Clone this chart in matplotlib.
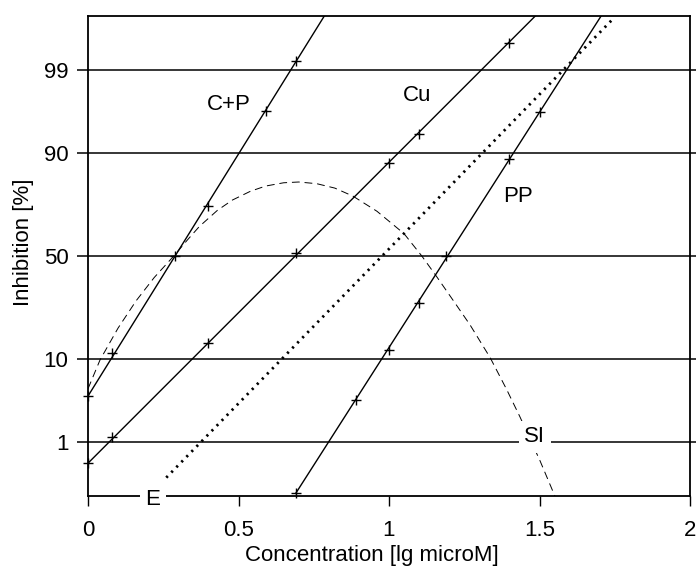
from statistics import NormalDist

import matplotlib
matplotlib.use("Agg")
import matplotlib.pyplot as plt

plt.rcParams['font.family'] = ['Liberation Sans', 'DejaVu Sans']

FONT_SIZE = 16
BLACK = (0, 0, 0)

# inhibition in %, concentration in lg microM
# C+P
cp_conc = [0.0, 0.08, 0.29, 0.40, 0.59, 0.69]
cp_inh = [4.0, 11.2, 50.0, 73.6, 96.5, 99.26]
cp_line_conc = [0.0, 0.80]
cp_line_inh = [4.0, 99.9]

# Cu
cu_conc = [0.0, 0.08, 0.40, 0.69, 1.00, 1.10, 1.40]
cu_inh = [0.48, 1.2, 13.8, 51.4, 87.8, 93.7, 99.61]
cu_line_conc = [0.0, 1.51]
cu_line_inh = [0.48, 99.9]

# PP
pp_conc = [0.69, 0.89, 1.00, 1.10, 1.19, 1.40, 1.50]
pp_inh = [0.15, 3.6, 12.1, 27.9, 50.0, 88.8, 96.4]
pp_line_conc = [0.69, 1.72]
pp_line_inh = [0.15, 99.9]

# E (dotted, no points)
e_conc = [0.26, 1.74]
e_inh = [0.28, 99.84]

# SI (dashed curve)
si_conc = [0.0, 0.04, 0.10, 0.16, 0.22, 0.285, 0.33, 0.37, 0.43, 0.48, 0.54, 0.59,
           0.65, 0.70, 0.76, 0.82, 0.88, 0.96, 1.05, 1.109, 1.158, 1.214, 1.269,
           1.336, 1.391, 1.435, 1.502, 1.551]
si_inh = [4.85, 9.7, 18.4, 28.8, 39.4, 50.0, 57.9, 64.4, 71.6, 75.8, 79.1, 80.9,
          82.0, 82.25, 81.7, 80.2, 77.3, 71.2, 61.0, 50.0, 39.9, 28.8, 19.5,
          10.2, 4.75, 2.22, 0.52, 0.135]

y_ticks_pct = [1, 10, 50, 90, 99]
x_ticks = [0, 0.5, 1, 1.5, 2]
x_tick_labels = ["0", "0.5", "1", "1.5", "2"]


def probit(pct):
    return [5 + NormalDist().inv_cdf(p / 100) for p in pct]


def draw_series(ax, conc, inh, line_conc, line_inh):
    ax.plot(line_conc, probit(line_inh), color=BLACK, lw=1.0, zorder=3)
    ax.plot(conc, probit(inh), ls='none', marker='+', ms=7.5, mew=1.0,
            color=BLACK, zorder=4, clip_on=False)


def label(ax, x, y, text, box=False):
    kw = {}
    if box:
        kw['bbox'] = dict(facecolor='white', edgecolor='none', pad=4)
    ax.text(x, y, text, fontsize=FONT_SIZE, ha='center', va='center',
            zorder=5, clip_on=False, **kw)


fig = plt.figure(figsize=(6.96, 5.67), dpi=100)
ax = fig.add_axes([88 / 696, 1 - 496 / 567, 602 / 696, 480 / 567])
ax.set_xlim(0, 2)
ax.set_ylim(2, 8)

for y in probit(y_ticks_pct):
    ax.axhline(y, color=BLACK, lw=1.1, zorder=1)

draw_series(ax, cp_conc, cp_inh, cp_line_conc, cp_line_inh)
draw_series(ax, cu_conc, cu_inh, cu_line_conc, cu_line_inh)
draw_series(ax, pp_conc, pp_inh, pp_line_conc, pp_line_inh)
ax.plot(e_conc, probit(e_inh), color=BLACK, lw=2.0, ls=(0, (0.8, 1.8)), zorder=3)
ax.plot(si_conc, probit(si_inh), color=BLACK, lw=0.7, ls=(0, (8, 5)), zorder=3)

label(ax, 0.468, 6.888, "C+P")
label(ax, 1.093, 7.005, "Cu")
label(ax, 1.428, 5.740, "PP")
label(ax, 1.484, 2.74, "SI", box=True)
label(ax, 0.216, 1.96, "E", box=True)

ax.set_yticks(probit(y_ticks_pct))
ax.set_yticklabels([str(p) for p in y_ticks_pct])
ax.set_xticks(x_ticks)
ax.set_xticklabels(x_tick_labels)
ax.tick_params(axis='y', left=True, right=True, direction='out', length=8,
               width=1.1, labelsize=FONT_SIZE, pad=6)
ax.tick_params(axis='x', direction='out', length=7, width=1.0,
               labelsize=FONT_SIZE, pad=10)
for side in ax.spines.values():
    side.set_linewidth(1.3)

ax.set_xlabel("Concentration [lg microM]", fontsize=FONT_SIZE)
ax.xaxis.set_label_coords((372 - 88) / 602, -49 / 480)
ax.set_ylabel("Inhibition [%]", fontsize=FONT_SIZE)
ax.yaxis.set_label_coords(-0.089, (496 - 242) / 480)

fig.savefig("out.png", dpi=100)
